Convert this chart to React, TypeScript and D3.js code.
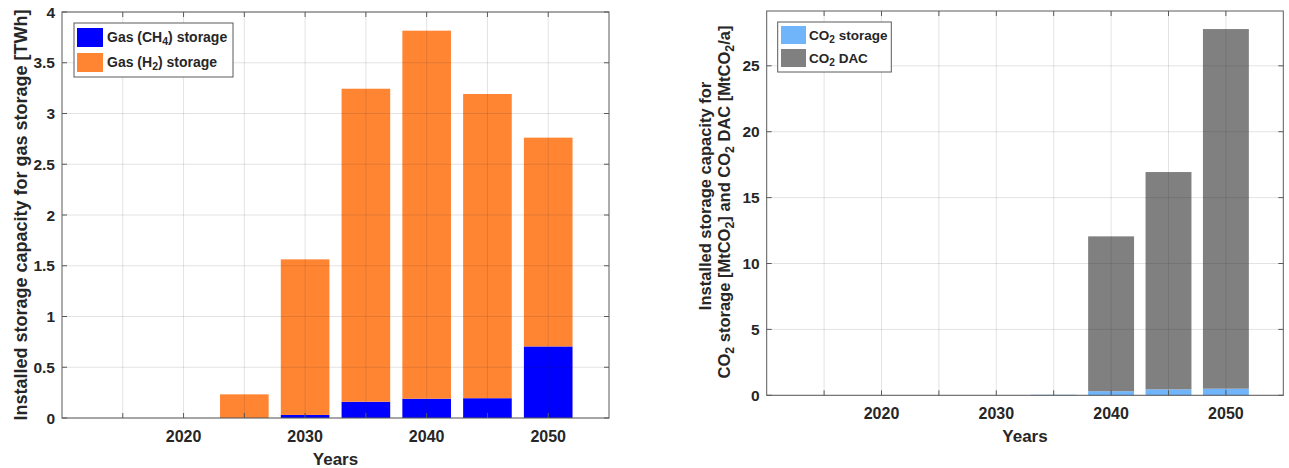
import React from "react";
import * as d3 from "d3";

const years = [2015, 2020, 2025, 2030, 2035, 2040, 2045, 2050];
const gasCH4 = [0, 0, 0, 0.03, 0.16, 0.19, 0.195, 0.705];
const gasH2 = [0, 0, 0.233, 1.533, 3.084, 3.626, 2.997, 2.057];
const co2Storage = [0, 0, 0, 0, 0.04, 0.31, 0.45, 0.5];
const co2DAC = [0, 0, 0, 0, 0, 11.75, 16.49, 27.29];
const xTicks = [2015, 2020, 2025, 2030, 2035, 2040, 2045, 2050];
const xTickLabels = ["", "2020", "", "2030", "", "2040", "", "2050"];
const leftYTicks = [0, 0.5, 1, 1.5, 2, 2.5, 3, 3.5, 4];
const leftYTickLabels = ["0", "0.5", "1", "1.5", "2", "2.5", "3", "3.5", "4"];
const rightYTicks = [0, 5, 10, 15, 20, 25];
const rightYTickLabels = ["0", "5", "10", "15", "20", "25"];

const FONT = "'Liberation Sans', Arial, Helvetica, sans-serif";
const C_CH4 = "#0000ff";
const C_H2 = "#ff8533";
const C_STO = "#70b4fa";
const C_DAC = "#808080";
const AXIS = "#5a5a5a";
const GRID = "rgba(38,38,38,0.13)";

type Panel = {
  x0: number; x1: number; y0: number; y1: number;
  yMax: number; yTicks: number[]; yLabels: string[];
  s1: number[]; s2: number[]; c1: string; c2: string;
};

// "_x" marks a subscript segment
function rich(s: string) {
  const parts = s.split(/(_\d)/).filter((p) => p.length > 0);
  let shifted = false;
  return parts.map((p, i) => {
    if (p.startsWith("_")) {
      shifted = true;
      return (
        <tspan key={i} dy="0.35em" fontSize="0.75em">{p.slice(1)}</tspan>
      );
    }
    const dy = shifted ? "-0.2625em" : undefined;
    shifted = false;
    return <tspan key={i} dy={dy}>{p}</tspan>;
  });
}

function Axes({ p, children }: { p: Panel; children?: React.ReactNode }) {
  const x = d3.scaleLinear().domain([2010, 2055]).range([p.x0, p.x1]);
  const y = d3.scaleLinear().domain([0, p.yMax]).range([p.y1, p.y0]);
  const rows = years.map((yr, i) => ({ yr, a: p.s1[i], b: p.s2[i] }));
  const stack = d3.stack<any>().keys(["a", "b"])(rows);
  const bw = x(2014) - x(2010);
  const colors = [p.c1, p.c2];
  return (
    <g>
      {stack.map((layer, li) =>
        layer.map((d, i) => {
          const h = y(d[0]) - y(d[1]);
          if (h <= 0) return null;
          return (
            <rect key={`${li}-${i}`} x={x(rows[i].yr) - bw / 2} y={y(d[1])}
              width={bw} height={h} fill={colors[li]} />
          );
        })
      )}
      {xTicks.map((t) => (
        <line key={"gx" + t} x1={x(t)} x2={x(t)} y1={p.y0} y2={p.y1} stroke={GRID} />
      ))}
      {p.yTicks.map((t) => (
        <line key={"gy" + t} x1={p.x0} x2={p.x1} y1={y(t)} y2={y(t)} stroke={GRID} />
      ))}
      <rect x={p.x0} y={p.y0} width={p.x1 - p.x0} height={p.y1 - p.y0}
        fill="none" stroke={AXIS} strokeWidth={1} />
      {xTicks.map((t) => (
        <g key={"tx" + t}>
          <line x1={x(t)} x2={x(t)} y1={p.y1} y2={p.y1 - 5} stroke={AXIS} />
          <line x1={x(t)} x2={x(t)} y1={p.y0} y2={p.y0 + 5} stroke={AXIS} />
        </g>
      ))}
      {p.yTicks.map((t) => (
        <g key={"ty" + t}>
          <line x1={p.x0} x2={p.x0 + 5} y1={y(t)} y2={y(t)} stroke={AXIS} />
          <line x1={p.x1} x2={p.x1 - 5} y1={y(t)} y2={y(t)} stroke={AXIS} />
        </g>
      ))}
      {xTicks.map((t, i) =>
        xTickLabels[i] ? (
          <text key={"lx" + t} x={x(t)} y={p.y1 + 18} textAnchor="middle"
            dominantBaseline="central" fontSize={16} fontWeight="bold" fill="#262626">
            {xTickLabels[i]}
          </text>
        ) : null
      )}
      {p.yTicks.map((t, i) => (
        <text key={"ly" + t} x={p.x0 - 7} y={y(t)} textAnchor="end"
          dominantBaseline="central" fontSize={15.5} fontWeight="bold" fill="#262626">
          {p.yLabels[i]}
        </text>
      ))}
      <text x={(p.x0 + p.x1) / 2} y={p.y1 + 41} textAnchor="middle"
        dominantBaseline="central" fontSize={17} fontWeight="bold" fill="#262626">
        Years
      </text>
      {children}
    </g>
  );
}

export default function App() {
  const left: Panel = {
    x0: 62, x1: 609, y0: 12, y1: 418, yMax: 4,
    yTicks: leftYTicks, yLabels: leftYTickLabels,
    s1: gasCH4, s2: gasH2, c1: C_CH4, c2: C_H2,
  };
  const right: Panel = {
    x0: 766.7, x1: 1283.3, y0: 11, y1: 395.3, yMax: 29.16,
    yTicks: rightYTicks, yLabels: rightYTickLabels,
    s1: co2Storage, s2: co2DAC, c1: C_STO, c2: C_DAC,
  };
  return (
    <svg width={1289} height={468} style={{ position: "absolute", left: 0, top: 0, background: "#fff" }}
      fontFamily={FONT}>
      <rect x={0} y={0} width={1289} height={468} fill="#fff" />
      <Axes p={left}>
        <g>
          <rect x={74} y={23} width={159} height={54} fill="#fff" stroke={AXIS} />
          <rect x={77} y={28} width={26} height={19} fill={C_CH4} />
          <rect x={77} y={53} width={26} height={19} fill={C_H2} />
          <text x={107} y={41.5} fontSize={14} fontWeight="bold" fill="#262626">
            {rich("Gas (CH_4) storage")}
          </text>
          <text x={107} y={66.5} fontSize={14} fontWeight="bold" fill="#262626">
            {rich("Gas (H_2) storage")}
          </text>
        </g>
        <text transform="translate(21,215) rotate(-90)" textAnchor="middle"
          dominantBaseline="central" fontSize={18} fontWeight="bold" fill="#262626">
          Installed storage capacity for gas storage [TWh]
        </text>
      </Axes>
      <Axes p={right}>
        <g>
          <rect x={777.7} y={22} width={113.6} height={50} fill="#fff" stroke={AXIS} />
          <rect x={781} y={26} width={25} height={18} fill={C_STO} />
          <rect x={781} y={49} width={25} height={18} fill={C_DAC} />
          <text x={809} y={39.5} fontSize={13.5} fontWeight="bold" fill="#262626">
            {rich("CO_2 storage")}
          </text>
          <text x={809} y={62.5} fontSize={13.5} fontWeight="bold" fill="#262626">
            {rich("CO_2 DAC")}
          </text>
        </g>
        <text transform="translate(705,196) rotate(-90)" textAnchor="middle"
          dominantBaseline="central" fontSize={16.5} fontWeight="bold" fill="#262626">
          Installed storage capacity for
        </text>
        <text transform="translate(730,202) rotate(-90)" textAnchor="middle"
          fontSize={16.5} fontWeight="bold" fill="#262626">
          {rich("CO_2 storage [MtCO_2] and CO_2 DAC [MtCO_2/a]")}
        </text>
      </Axes>
    </svg>
  );
}
